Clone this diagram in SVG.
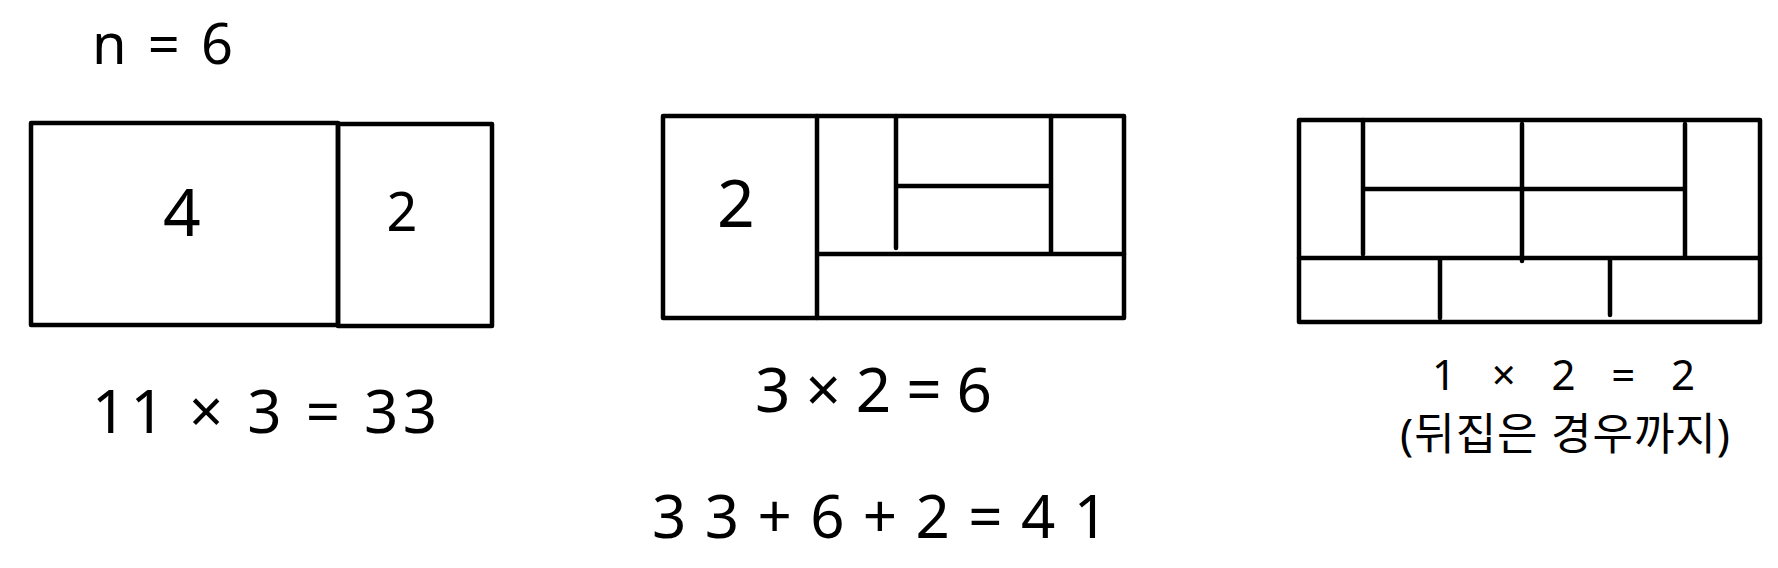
<svg xmlns="http://www.w3.org/2000/svg" width="1778" height="568" viewBox="0 0 1778 568">
<style>
.ln{fill:none;stroke:#000;stroke-width:4.5;stroke-linecap:round;stroke-linejoin:round}
.t{font-family:"Noto Sans","Noto Sans CJK KR",sans-serif;fill:#000}
.c{text-anchor:middle}
</style>
<rect width="1778" height="568" fill="#fff"/>
<g id="title">
<text class="t" x="92" y="64" font-size="56" textLength="141" lengthAdjust="spacing">n = 6</text>
</g>
<g id="panel1">
<rect class="ln" x="31" y="123" width="307" height="202"/>
<rect class="ln" x="338" y="124" width="154" height="202"/>
<text class="t c" x="182" y="236" font-size="66">4</text>
<text class="t c" x="402" y="231" font-size="54">2</text>
<text class="t" x="92" y="433" font-size="60" textLength="345" lengthAdjust="spacing">11 × 3 = 33</text>
</g>
<g id="panel2">
<rect class="ln" x="663" y="116" width="461" height="202"/>
<path class="ln" d="M817 116V318M817 254H1124M896 116V248M1051 116V254M896 186H1051"/>
<text class="t c" x="736" y="227" font-size="66">2</text>
<text class="t" x="755" y="412" font-size="62" textLength="237" lengthAdjust="spacing">3 × 2 = 6</text>
</g>
<g id="panel3">
<rect class="ln" x="1299" y="120" width="461" height="202"/>
<path class="ln" d="M1299 258H1760M1363 120V254M1522 124V261M1685 124V258M1363 189H1685M1440 258V318M1610 258V315"/>
<text class="t" x="1432" y="390" font-size="42" textLength="263" lengthAdjust="spacing">1 × 2 = 2</text>
<text class="t" x="1400" y="450" font-size="44" textLength="330" lengthAdjust="spacing">(뒤집은 경우까지)</text>
</g>
<g id="total">
<text class="t" x="652" y="538" font-size="60" textLength="456" lengthAdjust="spacing">33+6+2=41</text>
</g>
</svg>
